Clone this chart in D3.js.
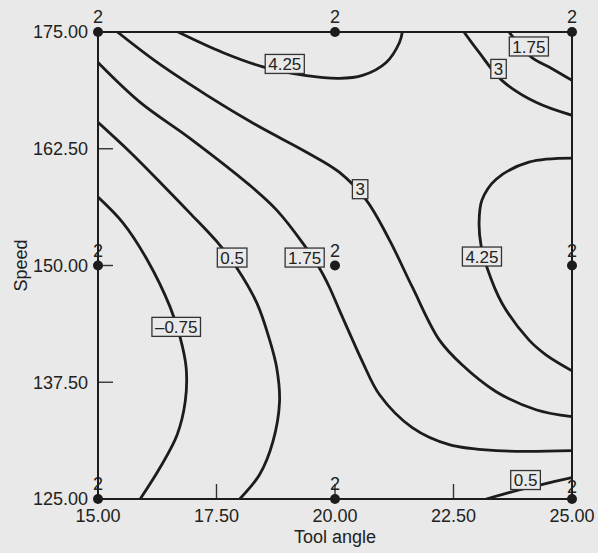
<!DOCTYPE html>
<html><head><meta charset="utf-8">
<script src="https://cdn.jsdelivr.net/npm/d3@7"></script>
<style>
html,body{margin:0;padding:0;background:#e8e9e8;}
svg{display:block;font-family:"Liberation Sans",Arial,Helvetica,sans-serif;}
</style></head><body>
<svg id="chart" width="598" height="553"></svg>
<script>
// ---- data ----
const toolAngleTicks = [15, 17.5, 20, 22.5, 25];
const speedTicks = [125, 137.5, 150, 162.5, 175];
const designAngles = [15, 20, 25];
const designSpeeds = [125, 150, 175];
const replicates = 2;
const contourLevels = [-0.75, 0.5, 1.75, 3, 4.25];

// contour lines, [tool angle, speed]
const lineM075 = [[15.0,157.32],[15.53,154.54],[16.04,150.59],[16.52,145.57],[16.73,142.36],[16.86,139.05],[16.84,135.42],[16.67,131.89],[16.31,128.37],[15.89,125]];
const line050a = [[15.0,165.33],[15.68,162.13],[16.37,158.60],[16.94,155.61],[17.57,152.19],[17.93,149.73],[18.35,145.99],[18.62,142.04],[18.77,139.05],[18.83,135.42],[18.69,131.14],[18.41,127.62],[17.99,125]];
const line050b = [[23.19,125],[23.67,125.69],[24.36,126.55],[25,127.30]];
const line175a = [[15.0,171.74],[15.89,167.47],[16.94,163.62],[18.20,158.60],[18.77,155.93],[19.32,152.40],[19.67,149.73],[19.88,147.70],[20.09,145.25],[20.37,142.04],[20.58,139.69],[20.94,136.16],[21.63,132.64],[22.41,130.82],[23.40,130.18],[25,130.18]];
const line175b = [[23.67,175],[24.15,172.28],[24.57,171.10],[25,169.82]];
const line300a = [[15.41,175],[16.25,171.74],[17.30,168.22],[18.35,165.01],[19.40,162.13],[20.09,159.99],[20.66,157.00],[21.15,152.72],[21.63,147.70],[22.20,142.04],[22.68,139.37],[23.40,136.49],[24.24,134.56],[25,133.81]];
const line300b = [[22.72,175],[23.04,172.81],[23.52,169.82],[24.24,167.47],[25,166.08]];
const line425a = [[16.69,175],[17.63,172.81],[18.52,171.21],[19.36,170.35],[20.09,170.03],[20.58,170.35],[21.08,171.74],[21.36,173.88],[21.42,175]];
const line425b = [[25,161.49],[24.09,161.06],[23.40,159.24],[23.10,157.00],[23.04,154.54],[23.08,152.19],[23.21,149.73],[23.52,145.99],[24.09,142.04],[24.45,140.44],[25,138.73]];

// label anchors [tool angle, speed]
const labelM075 = [16.65,143.43];
const label050a = [17.83,150.85];
const label050b = [24.02,127.03];
const label175a = [19.36,150.85];
const label175b = [24.09,173.45];
const label300a = [20.53,158.17];
const label300b = [23.45,171.05];
const label425a = [18.94,171.58];
const label425b = [23.10,150.96];

const contours = [
  {level: contourLevels[0], pts: lineM075, lab: labelM075},
  {level: contourLevels[1], pts: line050a, lab: label050a},
  {level: contourLevels[1], pts: line050b, lab: label050b},
  {level: contourLevels[2], pts: line175a, lab: label175a},
  {level: contourLevels[2], pts: line175b, lab: label175b},
  {level: contourLevels[3], pts: line300a, lab: label300a},
  {level: contourLevels[3], pts: line300b, lab: label300b},
  {level: contourLevels[4], pts: line425a, lab: label425a},
  {level: contourLevels[4], pts: line425b, lab: label425b}
];

// ---- drawing ----
const W = 598, H = 553;
const m = {left: 98, right: 26, top: 32, bottom: 54};
const svg = d3.select("#chart");
const bg = "#e8e9e8";
const ink = "#1c1c1c";

svg.append("rect").attr("width", W).attr("height", H).attr("fill", bg);

const x = d3.scaleLinear().domain([15, 25]).range([m.left, W - m.right]);
const y = d3.scaleLinear().domain([125, 175]).range([H - m.bottom, m.top]);

svg.append("clipPath").attr("id", "plotclip").append("rect")
  .attr("x", x(15)).attr("y", y(175)).attr("width", x(25) - x(15)).attr("height", y(125) - y(175));

const line = d3.line().x(d => x(d[0])).y(d => y(d[1])).curve(d3.curveCatmullRom.alpha(0.5));

const gC = svg.append("g").attr("clip-path", "url(#plotclip)");
gC.selectAll("path").data(contours).join("path")
  .attr("d", d => line(d.pts))
  .attr("fill", "none").attr("stroke", ink).attr("stroke-width", 2.8)
  .attr("stroke-linecap", "round").attr("stroke-linejoin", "round");

// ticks (inward)
const gAx = svg.append("g");
gAx.selectAll("line.xt").data(toolAngleTicks).join("line")
  .attr("x1", d => x(d)).attr("x2", d => x(d))
  .attr("y1", y(125)).attr("y2", y(125) - 15)
  .attr("stroke", "#333").attr("stroke-width", 1.4);
gAx.selectAll("line.yt").data(speedTicks).join("line")
  .attr("x1", x(15)).attr("x2", x(15) + 15)
  .attr("y1", d => y(d)).attr("y2", d => y(d))
  .attr("stroke", "#333").attr("stroke-width", 1.4);

// frame
svg.append("rect")
  .attr("x", x(15)).attr("y", y(175)).attr("width", x(25) - x(15)).attr("height", y(125) - y(175))
  .attr("fill", "none").attr("stroke", ink).attr("stroke-width", 2);

// tick labels
const fmt = d3.format(".2f");
svg.append("g").selectAll("text").data(toolAngleTicks).join("text")
  .attr("x", d => x(d)).attr("y", y(125) + 23)
  .attr("text-anchor", "middle").attr("font-size", 18).attr("fill", "#222")
  .text(d => fmt(d));
svg.append("g").selectAll("text").data(speedTicks).join("text")
  .attr("x", x(15) - 10).attr("y", d => y(d)).attr("dy", "0.36em")
  .attr("text-anchor", "end").attr("font-size", 18).attr("fill", "#222")
  .text(d => fmt(d));

// axis titles
svg.append("text").attr("x", (x(15) + x(25)) / 2).attr("y", 543)
  .attr("text-anchor", "middle").attr("font-size", 18).attr("fill", "#222").text("Tool angle");
svg.append("text").attr("transform", `translate(27,${(y(125) + y(175)) / 2}) rotate(-90)`)
  .attr("text-anchor", "middle").attr("font-size", 18).attr("fill", "#222").text("Speed");

// design points
const design = [];
designAngles.forEach(a => designSpeeds.forEach(s => design.push({a, s, n: replicates})));
const gP = svg.append("g");
gP.selectAll("circle").data(design).join("circle")
  .attr("cx", d => x(d.a)).attr("cy", d => y(d.s)).attr("r", 5).attr("fill", ink);
gP.selectAll("text").data(design).join("text")
  .attr("x", d => x(d.a)).attr("y", d => y(d.s) - ((d.a === 25 && d.s === 125) ? 6 : 9))
  .attr("text-anchor", "middle").attr("font-size", 18).attr("fill", "#222")
  .text(d => d.n);

// contour labels
const labFmt = v => v < 0 ? "\u2013" + Math.abs(v) : String(v);
const gL = svg.append("g");
contours.forEach(c => {
  const g = gL.append("g").attr("transform", `translate(${x(c.lab[0])},${y(c.lab[1])})`);
  const t = g.append("text").attr("text-anchor", "middle").attr("dy", "0.36em")
    .attr("font-size", 17).attr("fill", "#222").text(labFmt(c.level));
  const bb = t.node().getBBox();
  g.insert("rect", "text")
    .attr("x", bb.x - 3).attr("y", -9.5).attr("width", bb.width + 6).attr("height", 19)
    .attr("fill", bg).attr("stroke", "#333").attr("stroke-width", 1.3);
});
</script>
</body></html>
